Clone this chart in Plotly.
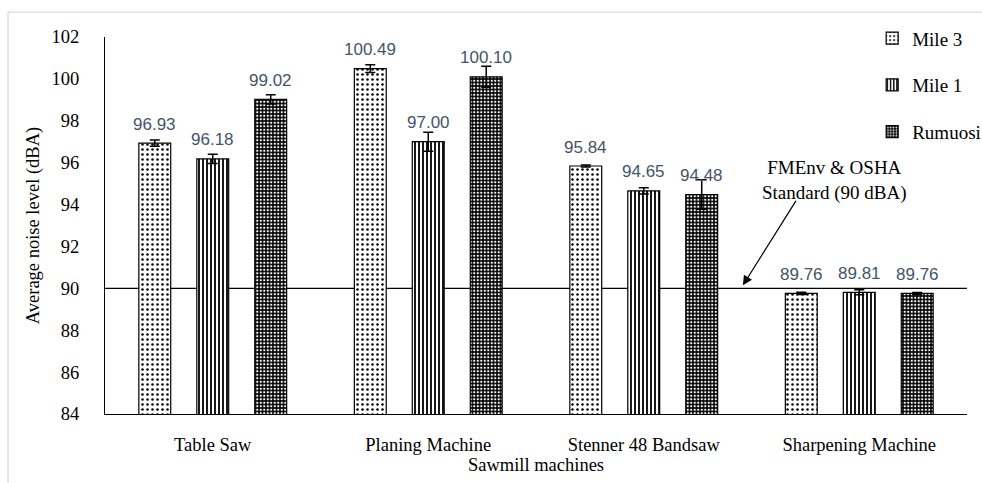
import plotly.graph_objects as go

categories = ["Table Saw", "Planing Machine", "Stenner 48 Bandsaw", "Sharpening Machine"]
series_names = ["Mile 3", "Mile 1", "Rumuosi"]
mile3 = [96.93, 100.49, 95.84, 89.76]
mile1 = [96.18, 97.00, 94.65, 89.81]
rumuosi = [99.02, 100.10, 94.48, 89.76]
mile3_err = [0.15, 0.18, 0.05, 0.05]
mile1_err = [0.22, 0.45, 0.15, 0.12]
rumuosi_err = [0.22, 0.50, 0.70, 0.04]
standard_level = 90
y_ticks = [84, 86, 88, 90, 92, 94, 96, 98, 100, 102]

serif = "Liberation Serif"
label_color = "#44546A"

patterns = [
    dict(shape=".", fgcolor="black", bgcolor="white", size=5, solidity=0.2, fillmode="replace"),
    dict(shape="|", fgcolor="black", bgcolor="white", size=4, solidity=0.45, fillmode="replace"),
    dict(shape=".", fgcolor="white", bgcolor="black", size=3.5, solidity=0.35, fillmode="replace"),
]

fig = go.Figure()
all_vals = [mile3, mile1, rumuosi]
all_errs = [mile3_err, mile1_err, rumuosi_err]
for i, (name, vals, errs) in enumerate(zip(series_names, all_vals, all_errs)):
    fig.add_trace(go.Bar(
        name=name, x=categories, y=vals, legendgroup=name,
        marker=dict(color="white" if i < 2 else "black",
                    line=dict(color="black", width=1.2),
                    pattern=patterns[i]),
        error_y=dict(type="data", array=errs, visible=True, color="black",
                     thickness=1.5, width=5),
    ))

offsets = [-58, 0, 58]
for i, vals in enumerate(all_vals):
    for c, v in zip(categories, vals):
        fig.add_annotation(x=c, y=v, xref="x", yref="y", text=f"{v:.2f}",
                           showarrow=False, xshift=offsets[i], yshift=19,
                           font=dict(family="Liberation Sans", size=17, color=label_color))

fig.add_hline(y=standard_level, line=dict(color="black", width=1.2), layer="below")

# arrow
fig.add_annotation(xref="paper", yref="y", x=0.74, y=standard_level, yshift=3,
                   text="", showarrow=True, arrowhead=2, arrowsize=1.6, arrowwidth=1.2,
                   arrowcolor="black", ax=54, ay=-86)
fig.add_annotation(xref="paper", yref="paper", x=0.846, y=0.62, xanchor="center", yanchor="middle",
                   text="FMEnv & OSHA<br>Standard (90 dBA)", showarrow=False,
                   font=dict(family=serif, size=19, color="black"))

# outer chart border (left and top visible)
fig.add_shape(type="line", xref="paper", yref="paper", x0=-0.1125, x1=-0.1125, y0=-0.2, y1=1.066,
              line=dict(color="#d0d0d0", width=1))
fig.add_shape(type="line", xref="paper", yref="paper", x0=-0.1125, x1=1.05, y0=1.066, y1=1.066,
              line=dict(color="#d0d0d0", width=1))

fig.update_layout(
    width=982, height=483,
    margin=dict(l=105, r=15, t=37, b=69, autoexpand=False),
    paper_bgcolor="white", plot_bgcolor="white",
    barmode="group", bargap=0.193, bargroupgap=0.45,
    font=dict(family=serif, size=18.5, color="black"),
    legend=dict(x=0.89, y=1.047, xanchor="left", yanchor="top",
                bgcolor="rgba(0,0,0,0)", traceorder="grouped", tracegroupgap=19,
                font=dict(family=serif, size=19, color="black"),
                itemwidth=30),
    showlegend=True,
)
fig.update_xaxes(showline=True, linecolor="black", linewidth=1.2, ticks="",
                 ticklabelstandoff=14, automargin=False,
                 title=dict(text="Sawmill machines", standoff=0, font=dict(family=serif, size=18.5)),
                 tickfont=dict(family=serif, size=18.5))
fig.update_yaxes(range=[84, 102], tickvals=y_ticks, showline=True, linecolor="black", linewidth=1.2,
                 showgrid=False, zeroline=False, ticks="", ticklabelstandoff=21, automargin=False,
                 title=dict(text="Average noise level (dBA)", standoff=6, font=dict(family=serif, size=18.5)),
                 tickfont=dict(family=serif, size=18.5))

fig.write_html("out.html", config={"displayModeBar": False},
               post_script="document.body.style.margin='0';document.body.style.overflow='hidden';")
